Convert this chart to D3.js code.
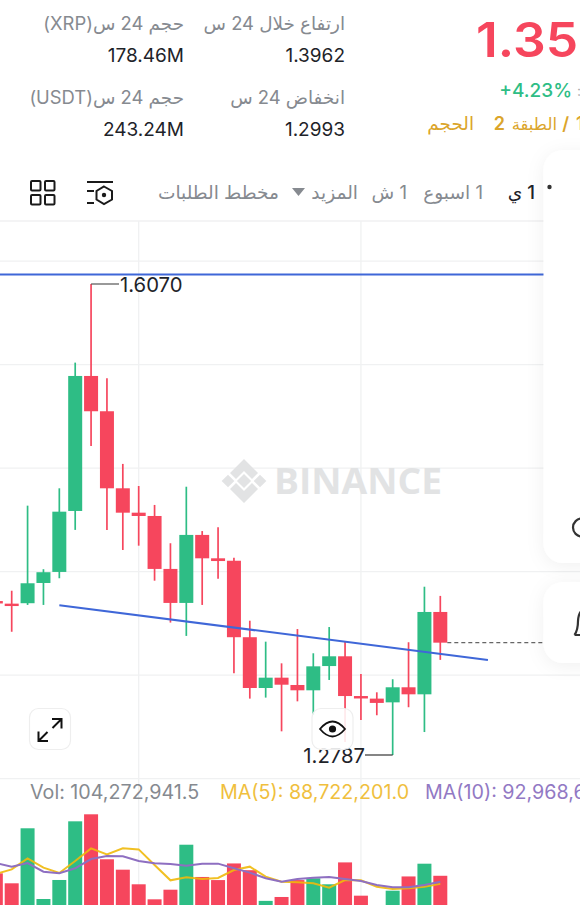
<!DOCTYPE html>
<html><head><meta charset="utf-8">
<script src="https://cdn.jsdelivr.net/npm/d3@7/dist/d3.min.js"></script>
<style>
html,body{margin:0;padding:0;background:#fff;overflow:hidden}
svg{display:block}
text{font-family:Inter,"Noto Sans","DejaVu Sans",sans-serif}
</style></head><body>
<svg id="c" width="580" height="905"></svg>
<script>
// Candle values (first candle sits just off the left edge: index -1)
const candleIndex = d3.range(-1, 28);
const opens  = [1.3860,1.3842,1.3845,1.3986,1.4063,1.4488,1.5429,1.5183,1.4646,1.4476,1.4453,1.4084,1.3847,1.4321,1.4158,1.4141,1.3608,1.3254,1.3326,1.3275,1.3238,1.3407,1.3475,1.3198,1.3180,1.3154,1.3259,1.3210,1.3784];
const closes = [1.3845,1.3829,1.3984,1.4061,1.4483,1.5429,1.5183,1.4646,1.4476,1.4453,1.4084,1.3847,1.4321,1.4158,1.4139,1.3608,1.3254,1.3326,1.3277,1.3238,1.3405,1.3475,1.3198,1.3181,1.3150,1.3259,1.3210,1.3784,1.3570];
const highs  = [1.3900,1.3932,1.4525,1.4082,1.4646,1.5522,1.6070,1.5413,1.4816,1.4662,1.4530,1.4263,1.4657,1.4348,1.4374,1.4162,1.3723,1.3577,1.3426,1.3665,1.3496,1.3679,1.3577,1.3352,1.3224,1.3315,1.3573,1.3960,1.3896];
const lows   = [1.3800,1.3646,1.3833,1.3833,1.4019,1.4356,1.4941,1.4356,1.4216,1.4246,1.4002,1.3710,1.3617,1.3833,1.4016,1.3357,1.3180,1.3187,1.2952,1.3161,1.3066,1.3310,1.2878,1.3031,1.3064,1.2787,1.3120,1.2947,1.3450];
// Volumes in millions, colour follows open/close
const volumes = [109,89.8,195.6,59.6,96.2,209,222.5,136,116,87.9,59,77.5,164,102,96,128,115,56,63.5,96,99.4,87.9,130,66,38,75.6,103,127.5,104.27];
const ma5  = [108,116.6,137.8,119.9,109.6,132.7,157,145.5,157,155,125,95.5,101.3,98,100,115.4,121.8,102.6,93,91.7,89.7,81.4,96.2,95.5,83.3,78.8,80.1,83.3,88.72];
const ma10 = [129,121.8,128.8,112.2,109,118.6,136.5,142.3,141.7,132.7,128.2,126.9,123.7,127.6,127.6,118.6,110.3,99.4,93,98,100.6,101.9,98,94.2,86.5,82,82,86.5,92.97];
const gridPrices = [1.6230,1.5508,1.4786,1.4065,1.3344,1.2622];
const gridIndex = [8,22];
const highPrice = 1.6070, lowPrice = 1.2787, lastPrice = 1.3570;
const resistancePrice = 1.6136;
const supportLine = [{i:3,p:1.3831},{i:30,p:1.3449}];
const statLabels = ["ارتفاع خلال 24 س","انخفاض 24 س","حجم 24 س(XRP)","حجم 24 س(USDT)"];
const statValues = ["1.3962","1.2993","178.46M","243.24M"];

const GREEN="#2ebd85", RED="#f6465d", BLUE="#3f67d8", GRID="#f0f1f2", GRAY="#868a90";
const svg=d3.select("#c");
const x=d3.scaleLinear().domain([0,27]).range([11.7,440.3]);
const y=d3.scaleLinear().domain([highPrice,lowPrice]).range([284,755]);
const yv=d3.scaleLinear().domain([0,100]).range([930,878]);

// grid
svg.append("g").selectAll("line").data(gridPrices).join("line")
 .attr("x1",0).attr("x2",580).attr("y1",d=>y(d)).attr("y2",d=>y(d)).attr("stroke",GRID).attr("stroke-width",1.3);
svg.append("g").selectAll("line").data(gridIndex).join("line")
 .attr("x1",d=>x(d)).attr("x2",d=>x(d)).attr("y1",221).attr("y2",905).attr("stroke",GRID).attr("stroke-width",1.3);
svg.append("line").attr("x1",0).attr("x2",580).attr("y1",221).attr("y2",221).attr("stroke",GRID).attr("stroke-width",1.3);

// watermark
const wm=svg.append("g").attr("fill","#e2e3e4");
wm.append("rect").attr("x",239).attr("y",476).attr("width",10).attr("height",10).attr("transform","rotate(45 244 481)");
[[228,481],[260,481]].forEach(d=>{
 wm.append("rect").attr("x",d[0]-4.5).attr("y",d[1]-4.5).attr("width",9).attr("height",9).attr("transform",`rotate(45 ${d[0]} ${d[1]})`);
});
wm.append("path").attr("d","M244 459 L258 473 L252 479 L244 471 L236 479 L230 473 Z");
wm.append("path").attr("d","M244 503 L258 489 L252 483 L244 491 L236 483 L230 489 Z");
wm.append("text").attr("x",274).attr("y",494).attr("font-size",35.5).attr("font-weight",700).attr("textLength",168).attr("lengthAdjust","spacingAndGlyphs").attr("style","font-family:'Open Sans',Inter,sans-serif").text("BINANCE");

// candles
const candles=candleIndex.map((i,k)=>({i,o:opens[k],c:closes[k],h:highs[k],l:lows[k],v:volumes[k]}));
const colr=d=>d.c>d.o?GREEN:RED;
const g=svg.append("g");
g.selectAll(".w").data(candles).join("line").attr("class","w")
 .attr("x1",d=>x(d.i)).attr("x2",d=>x(d.i)).attr("y1",d=>y(d.h)).attr("y2",d=>y(d.l)).attr("stroke",colr).attr("stroke-width",1.7);
g.selectAll(".b").data(candles).join("rect").attr("class","b")
 .attr("x",d=>x(d.i)-7).attr("width",14)
 .attr("y",d=>Math.min(y(d.o),y(d.c))).attr("height",d=>Math.max(2.4,Math.abs(y(d.o)-y(d.c)))).attr("fill",colr);

// trend lines
svg.append("line").attr("x1",0).attr("x2",580).attr("y1",y(resistancePrice)).attr("y2",y(resistancePrice)).attr("stroke",BLUE).attr("stroke-width",2);
svg.append("line").attr("x1",x(supportLine[0].i)).attr("x2",x(supportLine[1].i)).attr("y1",y(supportLine[0].p)).attr("y2",y(supportLine[1].p)).attr("stroke",BLUE).attr("stroke-width",2);

// last price dashed
svg.append("line").attr("x1",x(27)+7).attr("x2",545).attr("y1",y(lastPrice)).attr("y2",y(lastPrice)).attr("stroke","#666").attr("stroke-width",1.2).attr("stroke-dasharray","4 3");

// high/low annotations
svg.append("path").attr("d",`M${x(5)} ${y(highPrice)}H119`).attr("stroke","#555").attr("stroke-width",1.2).attr("fill","none");
svg.append("text").attr("x",120).attr("y",y(highPrice)+7.5).attr("font-size",20.3).attr("fill","#1e2329").text("1.6070");
svg.append("path").attr("d",`M${x(24)} ${y(lowPrice)}H365`).attr("stroke","#333").attr("stroke-width",1.2).attr("fill","none");
svg.append("text").attr("x",365).attr("y",y(lowPrice)+7.5).attr("text-anchor","end").attr("font-size",20.3).attr("fill","#1e2329").text("1.2787");

// volume
svg.append("g").selectAll("rect").data(candles).join("rect")
 .attr("x",d=>x(d.i)-7).attr("width",14).attr("y",d=>yv(d.v)).attr("height",d=>yv(0)-yv(d.v)).attr("fill",colr);
const lineV=d3.line().x((d,k)=>x(candleIndex[k])).y(d=>yv(d));
svg.append("path").attr("d",lineV(ma5)).attr("fill","none").attr("stroke","#f0b90b").attr("stroke-opacity",.9).attr("stroke-width",2);
svg.append("path").attr("d",lineV(ma10)).attr("fill","none").attr("stroke","#8e6fc1").attr("stroke-width",2);

// legend
const leg=[["Vol: 104,272,941.5",30,GRAY],["MA(5): 88,722,201.0",220,"#f0bf3e"],["MA(10): 92,968,6",425,"#9279c4"]];
svg.append("g").selectAll("text").data(leg).join("text").attr("x",d=>d[1]).attr("y",799).attr("font-size",19.7).attr("fill",d=>d[2]).text(d=>d[0]);

// buttons
const btn=(bx,by)=>svg.append("rect").attr("x",bx).attr("y",by).attr("width",41).attr("height",41).attr("rx",9).attr("fill","#fff").attr("fill-opacity",.88).attr("stroke","#eeeeee").attr("stroke-width",1.2);
btn(29.5,708.5); btn(312,708.5);
svg.append("path").attr("d","M52 719H61.5V728.5M61.5 719L52.5 728M48 741H38.5V731.5M38.5 741L47.5 732").attr("fill","none").attr("stroke","#111").attr("stroke-width",2);
svg.append("path").attr("d","M320 729Q332.5 714 345 729Q332.5 744 320 729Z").attr("fill","none").attr("stroke","#111").attr("stroke-width",1.8);
svg.append("circle").attr("cx",332.5).attr("cy",729).attr("r",3.6).attr("fill","#111");

// header stats
const stat=[[345,24,statLabels[0],statValues[0]],[345,98,statLabels[1],statValues[1]],[184,24,statLabels[2],statValues[2]],[184,98,statLabels[3],statValues[3]]];
stat.forEach(s=>{
 svg.append("text").attr("x",s[0]).attr("y",s[1]+6).attr("text-anchor","start").attr("direction","rtl").attr("font-size",18.4).attr("fill",GRAY).text(s[2]);
 svg.append("text").attr("x",s[0]).attr("y",s[1]+38).attr("text-anchor","end").attr("font-size",19).attr("fill","#1e2329").text(s[3]);
});
svg.append("text").attr("x",476).attr("y",57).attr("font-size",48).attr("font-weight",600).attr("textLength",102).attr("lengthAdjust","spacingAndGlyphs").attr("fill",RED).text("1.35");
svg.append("text").attr("x",572).attr("y",97).attr("text-anchor","end").attr("font-size",19).attr("font-weight",500).attr("fill",GREEN).text("+4.23%");
svg.append("text").attr("x",577).attr("y",96).attr("font-size",14).attr("fill","#aaa").text(":");
const gold="#dba52b";
svg.append("text").attr("x",474).attr("y",130).attr("text-anchor","start").attr("direction","rtl").attr("font-size",18.4).attr("fill",gold).text("الحجم");
svg.append("text").attr("x",505).attr("y",130).attr("text-anchor","end").attr("font-size",18).attr("font-weight",600).attr("fill",gold).text("2");
svg.append("text").attr("x",557).attr("y",130).attr("text-anchor","start").attr("direction","rtl").attr("font-size",16.5).attr("fill",gold).text("الطبقة");
svg.append("text").attr("x",569).attr("y",130).attr("text-anchor","end").attr("font-size",18).attr("font-weight",600).attr("fill",gold).text("/");
svg.append("text").attr("x",576).attr("y",130).attr("font-size",18).attr("font-weight",600).attr("fill",gold).text("1");

// toolbar
const tb=[[535,"1 ي","#1e2329",500],[483,"1 اسبوع",GRAY,400],[407,"1 ش",GRAY,400],[358,"المزيد",GRAY,400],[279,"مخطط الطلبات",GRAY,400]];
tb.forEach(t=>svg.append("text").attr("x",t[0]).attr("y",199).attr("text-anchor","start").attr("direction","rtl").attr("font-size",18.6).attr("font-weight",t[3]).attr("fill",t[2]).text(t[1]));
svg.append("path").attr("d","M292 188H305L298.5 196Z").attr("fill",GRAY);
// icons
const ic=svg.append("g").attr("fill","none").attr("stroke","#1a1a1a").attr("stroke-width",2);
[[31,181],[45,181],[31,195],[45,195]].forEach(d=>ic.append("rect").attr("x",d[0]).attr("y",d[1]).attr("width",9.5).attr("height",9.5).attr("rx",1));
ic.append("path").attr("d","M87 182H113M87 191H94M87 203H94");
ic.append("path").attr("d","M104 186.5L112 191V199.5L104 204L96.5 199.5V191Z");
svg.append("circle").attr("cx",104).attr("cy",195).attr("r",2.2).attr("fill","#1a1a1a");

// side cards
const defs=svg.append("defs");
const f=defs.append("filter").attr("id","sh").attr("x","-50%").attr("y","-20%").attr("width","200%").attr("height","140%");
f.append("feDropShadow").attr("dx",0).attr("dy",3).attr("stdDeviation",9).attr("flood-color","#000").attr("flood-opacity",.06);
[[150,413],[582,81]].forEach(c=>svg.append("rect").attr("x",543.5).attr("y",c[0]).attr("width",70).attr("height",c[1]).attr("rx",20).attr("fill","#fff").attr("filter","url(#sh)"));
svg.append("circle").attr("cx",582).attr("cy",527.5).attr("r",9).attr("fill","none").attr("stroke","#333").attr("stroke-width",2.2);
svg.append("circle").attr("cx",549.5).attr("cy",187).attr("r",2.2).attr("fill","#333");
svg.append("path").attr("d","M574.5 635Q578 630 578 621Q578.5 610 586 608M574.5 635H590").attr("fill","none").attr("stroke","#333").attr("stroke-width",2.2);
</script></body></html>
